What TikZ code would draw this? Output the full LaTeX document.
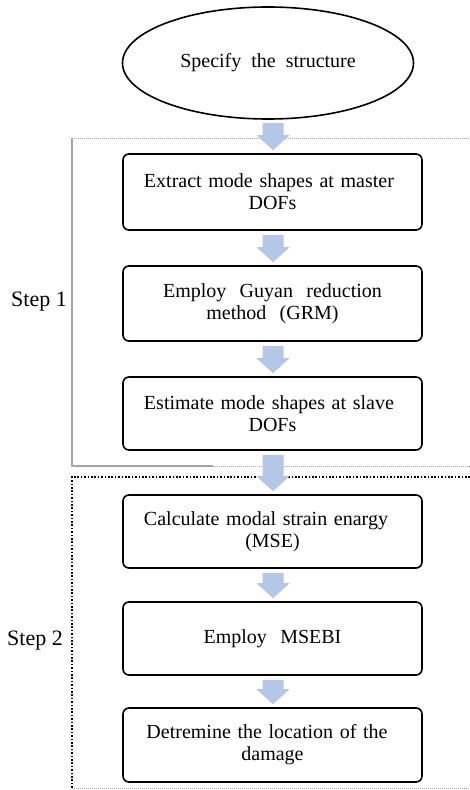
\documentclass[tikz,border=0pt]{standalone}
\usepackage{fontspec}
\setmainfont{Liberation Serif}
\usetikzlibrary{shapes.geometric,calc}
\definecolor{arrowblue}{RGB}{180,199,231}
\definecolor{framegray}{RGB}{165,165,165}
\newcommand\jline[1]{\makebox[257bp][s]{#1}}
\begin{document}
\begin{tikzpicture}[x=1bp,y=-1bp,
  stepbox/.style={draw, line width=1.6bp, rounded corners=6bp, minimum width=299bp,
    text width=290bp, align=center, inner sep=0pt,
    font=\fontsize{20bp}{22bp}\selectfont},
  steplabel/.style={font=\fontsize{22bp}{24bp}\selectfont, inner sep=0pt},
  finedot/.style={framegray, line width=0.8bp, dash pattern=on 1bp off 1bp},
  flowarrow/.style={fill=arrowblue, draw=none}]
\useasboundingbox (0,0) rectangle (470,790);
% frames
\draw[finedot] (72,138) -- (470,138);
\draw[framegray, line width=1.2bp] (72,138) -- (72,466) -- (213,466);
\draw[finedot] (213,466) -- (470,466);
\draw[black, line width=1.6bp, dash pattern=on 1.6bp off 1.8bp] (470,477) -- (72,477) -- (72,788);
\draw[finedot] (72,788) -- (470,788);
% nodes
\node[ellipse, draw, line width=1.6bp, minimum width=291bp, minimum height=112bp, inner sep=0pt,
  font=\fontsize{20bp}{22bp}\selectfont] (spec) at (268,63) {Specify\ \ the\ \ structure};
\node[stepbox, minimum height=76bp] (b1) at (272.5,192) {\jline{Extract mode shapes at master}\\DOFs};
\node[stepbox, minimum height=75bp] (b2) at (272.5,303.5) {Employ\ \ Guyan\ \ reduction\\method\ \ (GRM)};
\node[stepbox, minimum height=73bp] (b3) at (272.5,413.5) {\jline{Estimate mode shapes at slave}\\DOFs};
\node[stepbox, minimum height=73bp] (b4) at (272.5,531.5) {\jline{Calculate modal strain enargy}\\(MSE)};
\node[stepbox, minimum height=73bp] (b5) at (272.5,638.5) {Employ\ \ MSEBI};
\node[stepbox, minimum height=74bp] (b6) at (272.5,745) {\makebox[252bp][s]{Detremine the location of the}\\damage};
\node[steplabel] (s1) at (39,302) {Step 1};
\node[steplabel] (s2) at (35,641) {Step 2};
% block arrows
\newcommand\blockarrow[3]{% #1 from node, #2 to node, #3 name
  \coordinate (#3t) at ($(#1.south)+(0.5,4)$);
  \coordinate (#3b) at ($(#2.north)+(0.5,-3)$);
  \fill[flowarrow] ($(#3t)+(-10.5,0)$) -- ($(#3t)+(10.5,0)$) -- ($(#3b)+(10.5,-15)$)
    -- ($(#3b)+(16.5,-15)$) -- (#3b) -- ($(#3b)+(-16.5,-15)$) -- ($(#3b)+(-10.5,-15)$) -- cycle;}
\coordinate (specb) at (272.5,119);
\blockarrow{specb}{b1}{a0}
\blockarrow{b1}{b2}{a1}
\blockarrow{b2}{b3}{a2}
\blockarrow{b3}{b4}{a3}
\blockarrow{b4}{b5}{a4}
\blockarrow{b5}{b6}{a5}
\end{tikzpicture}
\end{document}
